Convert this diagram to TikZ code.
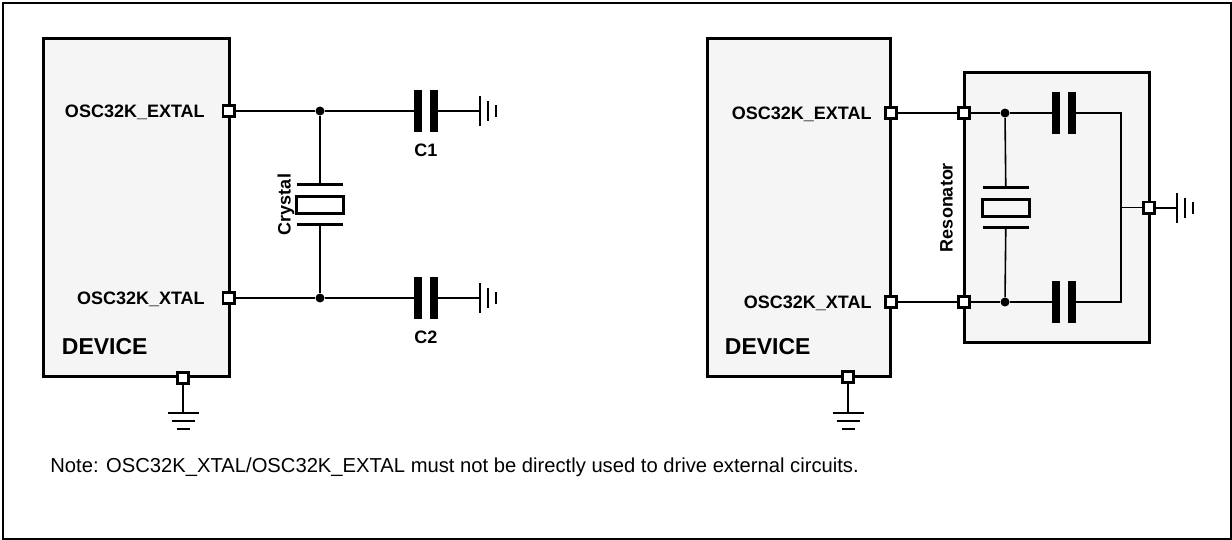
\documentclass[tikz,border=0pt]{standalone}
\usepackage{fontspec}
\setmainfont{Liberation Sans}
\usetikzlibrary{positioning}
\definecolor{boxgray}{RGB}{245,245,245}
\tikzset{
  devbox/.style={draw, line width=1.5pt, fill=boxgray, inner sep=0},
  pinbox/.style={draw, line width=1.4pt, fill=white, minimum size=5.6pt, inner sep=0},
  wire/.style={line width=1pt},
  thinwire/.style={line width=0.8pt},
  dot/.style={circle, fill=black, minimum size=4.5pt, inner sep=0},
  capbox/.style={rectangle, minimum width=11.5pt, minimum height=20.5pt, inner sep=0},
  xtalbox/.style={rectangle, minimum width=23pt, minimum height=19.5pt, inner sep=0},
  plate/.style={line width=1.5pt},
  pinlbl/.style={font=\bfseries\fontsize{9}{11}\selectfont, inner sep=0, anchor=base east},
  devlbl/.style={font=\bfseries\fontsize{11.5}{13}\selectfont, inner sep=0, anchor=base west},
  vlbl/.style={font=\bfseries\fontsize{9}{11}\selectfont, inner sep=0, anchor=base, rotate=90},
  gndbar/.style={line width=1.4pt},
  gnddown/.pic={
    \draw[gndbar] (-7.75pt,0) -- (7.75pt,0);
    \draw[gndbar] (-5.75pt,-4pt) -- (5.75pt,-4pt);
    \draw[gndbar] (-3.25pt,-8pt) -- (3.25pt,-8pt);
  },
  gndright/.pic={
    \draw[gndbar] (0,-7.5pt) -- (0,7.5pt);
    \draw[gndbar] (4pt,-5pt) -- (4pt,5pt);
    \draw[gndbar] (8pt,-3pt) -- (8pt,3pt);
  }
}
\begin{document}
\begin{tikzpicture}[x=0.5pt,y=-0.5pt]
\useasboundingbox (0,0) rectangle (1232,540);
\draw[line width=1pt] (3,3) rectangle (1231,539);

\begin{scope}
\node[devbox, minimum width=93pt, minimum height=168.5pt] (devL) at (136,207.5) {};
\node[pinbox] (pEL) at (228.5,111) {};
\node[pinbox] (pXL) at (228.5,298) {};
\node[pinbox] (pGL) at (183,378) {};
\node[pinlbl] at ([xshift=-8.2pt,yshift=-3.2pt]pEL.west) {OSC32K\_EXTAL};
\node[pinlbl] at ([xshift=-8.2pt,yshift=-3.2pt]pXL.west) {OSC32K\_XTAL};
\node[devlbl] at ([xshift=10pt,yshift=11.5pt]devL.south west) {DEVICE};

\node[dot] (dEL) at (320,111) {};
\node[dot] (dXL) at (320,298) {};
\node[xtalbox] (xtalL) at (320,204.5) {};
\node[vlbl] at ([xshift=-3pt]xtalL.west) {Crystal};
\node[capbox] (c1) at (426,111) {};
\node[capbox] (c2) at (426,298) {};
\node[pinlbl, anchor=north, below=5.75pt of c1] {C1};
\node[pinlbl, anchor=north, below=5.75pt of c2] {C2};
\coordinate (g1) at (480,111);
\coordinate (g2) at (480,298);
\coordinate (gL) at (183,413);

\draw[wire] (pEL) -- (dEL) -- (c1) -- (g1);
\draw[wire] (pXL) -- (dXL) -- (c2) -- (g2);
\draw[wire] (dEL) -- (xtalL);
\draw[wire] (xtalL) -- (dXL);
\draw[wire] (pGL) -- (gL);
\pic at (g1) {gndright};
\pic at (g2) {gndright};
\pic at (gL) {gnddown};
\end{scope}

\begin{scope}
\node[devbox, minimum width=91.5pt, minimum height=168.5pt] (devR) at (798.5,207.5) {};
\node[devbox, minimum width=92.5pt, minimum height=134.5pt] (res) at (1056.5,207.5) {};
\node[pinbox] (pER) at (891,113) {};
\node[pinbox] (pXR) at (891,302) {};
\node[pinbox] (pGR) at (848,377) {};
\node[pinbox] (pER2) at (964,113) {};
\node[pinbox] (pXR2) at (964,302) {};
\node[pinbox] (pGR2) at (1149,207.5) {};
\node[pinlbl] at ([xshift=-6pt,yshift=-3.2pt]pER.west) {OSC32K\_EXTAL};
\node[pinlbl] at ([xshift=-6pt,yshift=-3.2pt]pXR.west) {OSC32K\_XTAL};
\node[devlbl] at ([xshift=9.5pt,yshift=11.5pt]devR.south west) {DEVICE};

\node[dot] (dER) at (1005,113) {};
\node[dot] (dXR) at (1005,302) {};
\node[xtalbox] (xtalR) at (1006,207.5) {};
\node[vlbl] at ([xshift=-15pt]xtalR.west) {Resonator};
\node[capbox] (c3) at (1064,113) {};
\node[capbox] (c4) at (1064,302) {};
\coordinate (rT) at (1121,113);
\coordinate (rB) at (1121,302);
\coordinate (rM) at (1121,207.5);
\coordinate (gR) at (1177,207.5);
\coordinate (gR2) at (848,413);

\draw[wire] (pER) -- (pER2);
\draw[wire] (pXR) -- (pXR2);
\draw[thinwire] (pER2) -- (dER) -- (c3);
\draw[thinwire] (pXR2) -- (dXR) -- (c4);
\draw[thinwire] (dER) -- (xtalR);
\draw[thinwire] (xtalR) -- (dXR);
\draw[thinwire] (c3) -- (rT) -- (rB) -- (c4);
\draw[thinwire] (rM) -- (pGR2);
\draw[wire] (pGR2) -- (gR);
\draw[wire] (pGR) -- (gR2);
\pic at (gR) {gndright};
\pic at (gR2) {gnddown};
\end{scope}

\foreach \c in {c1,c2,c3,c4} {
  \fill (\c.north west) rectangle ([xshift=3.75pt]\c.south west);
  \fill ([xshift=-3.75pt]\c.north east) rectangle (\c.south east);
}
\foreach \x in {xtalL,xtalR} {
  \draw[plate] (\x.north west) -- (\x.north east);
  \draw[plate] (\x.south west) -- (\x.south east);
  \draw[line width=1.25pt] ([yshift=-6pt]\x.north west) rectangle ([yshift=5.5pt]\x.south east);
}

\node[font=\fontsize{10.1}{12}\selectfont, inner sep=0, anchor=west] (note) at (50,467)
  {Note: OSC32K\_XTAL/OSC32K\_EXTAL must not be directly used to drive external circuits.};
\end{tikzpicture}
\end{document}
